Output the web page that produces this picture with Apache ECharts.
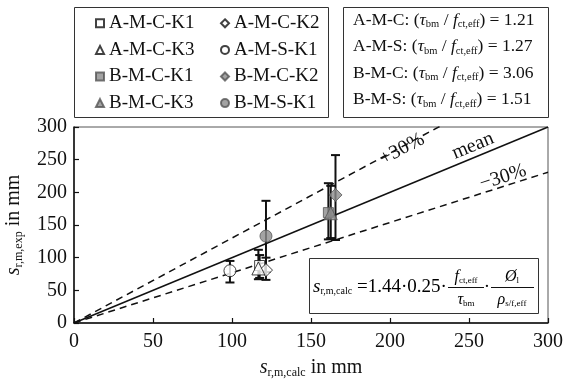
<!DOCTYPE html>
<html><head><meta charset="utf-8">
<script src="https://cdn.jsdelivr.net/npm/echarts@6/dist/echarts.min.js"></script>
<style>html,body{margin:0;padding:0;background:#fff}#c{width:565px;height:381px}</style>
</head><body><div id="c"></div>
<script>
// ---- data ----
const seriesNames = ['A-M-C-K1','A-M-C-K2','A-M-C-K3','A-M-S-K1','B-M-C-K1','B-M-C-K2','B-M-C-K3','B-M-S-K1'];
const symbols     = ['rect','diamond','triangle','circle','rect','diamond','triangle','circle'];
const filled      = [false,false,false,false,true,true,true,true];
const xCalc = [117.5, 121.5, 116.7, 98.7, 161, 165.5, 162.5, 121.5];
const yExp  = [88, 81, 83.5, 80, 169, 196, 168, 133];
const yLow  = [69, 66, 67, 62, 128, 127, 130, 78];
const yHigh = [104, 100, 112, 95, 214, 257, 210, 187];
const lineFactors = [1.3, 1, 1/1.3];
const lineLabels = ['+30%', 'mean', '\u221230%'];
const ratioGroups = ['A-M-C', 'A-M-S', 'B-M-C', 'B-M-S'];
const ratioValues = ['1.21', '1.27', '3.06', '1.51'];
const ticks = [0, 50, 100, 150, 200, 250, 300];

const SERIF = '"Liberation Serif","DejaVu Serif",serif';
const chart = echarts.init(document.getElementById('c'));

const richBase = {
  n: {fontFamily: SERIF, fontSize: 20, color: '#111', lineHeight: 24},
  it: {fontFamily: SERIF, fontSize: 20, fontStyle: 'italic', color: '#111', lineHeight: 24},
  sub: {fontFamily: SERIF, fontSize: 12, color: '#111', lineHeight: 12, verticalAlign: 'bottom', padding: [0,0,1,0]}
};
const richSmall = {
  n: {fontFamily: SERIF, fontSize: 17.5, color: '#111', lineHeight: 22},
  it: {fontFamily: SERIF, fontSize: 17.5, fontStyle: 'italic', color: '#111', lineHeight: 22},
  sub: {fontFamily: SERIF, fontSize: 10.5, color: '#111', lineHeight: 10, verticalAlign: 'bottom', padding: [0,0,1,0]}
};

const series = [];
lineFactors.forEach((f, i) => {
  series.push({
    type: 'line', name: 'ref' + i, data: [[0, 0], [300, 300 * f]],
    symbol: 'none', clip: true, silent: true, z: 1,
    lineStyle: {color: '#111', width: 1.5, type: i === 1 ? 'solid' : [7, 5]}
  });
});
series.push({
  type: 'custom', name: 'err', z: 2, silent: true,
  data: xCalc.map((x, i) => [x, yLow[i], yHigh[i]]),
  renderItem: (params, api) => {
    const lo = api.coord([api.value(0), api.value(1)]);
    const hi = api.coord([api.value(0), api.value(2)]);
    const w = 4.5;
    const st = {stroke: '#111', lineWidth: 2};
    return {type: 'group', children: [
      {type: 'line', shape: {x1: lo[0], y1: lo[1], x2: hi[0], y2: hi[1]}, style: st},
      {type: 'line', shape: {x1: lo[0]-w, y1: lo[1], x2: lo[0]+w, y2: lo[1]}, style: st},
      {type: 'line', shape: {x1: hi[0]-w, y1: hi[1], x2: hi[0]+w, y2: hi[1]}, style: st}
    ]};
  }
});
seriesNames.forEach((n, i) => {
  series.push({
    type: 'scatter', name: n, data: [[xCalc[i], yExp[i]]],
    symbol: symbols[i],
    symbolSize: symbols[i] === 'rect' ? 10 : (symbols[i] === 'circle' ? 12 : 13),
    z: 3,
    itemStyle: {color: filled[i] ? '#8c8c8c' : '#fff', borderColor: filled[i] ? '#555' : '#111', borderWidth: 1}
  });
});

const legendCommon = {
  orient: 'vertical', itemWidth: 8, itemHeight: 8, itemGap: 0,
  textStyle: {fontFamily: SERIF, fontSize: 19, color: '#111', lineHeight: 26.6, padding: [0,0,0,0]},
  selectedMode: false
};

const ratioTexts = ratioGroups.map((g, i) =>
  '{n|' + g + ': (}{it|\u03c4}{sub|bm}{n| / }{it|f}{sub|ct,eff}{n|) = ' + ratioValues[i] + '}');

const option = {
  animation: false,
  grid: {left: 74, right: 17, top: 127, bottom: 58, show: true, borderColor: '#555', borderWidth: 1,
    containLabel: false, outerBoundsMode: 'none'},
  xAxis: {
    type: 'value', min: 0, max: 300, interval: 50,
    axisLine: {lineStyle: {color: '#111', width: 1.5}},
    axisTick: {inside: true, length: 5, lineStyle: {color: '#111', width: 1.2}},
    splitLine: {show: false},
    axisLabel: {fontFamily: SERIF, fontSize: 20, color: '#111', margin: 9,
      formatter: v => ticks.includes(v) ? String(v) : ''},
    name: '{it|s}{sub|r,m,calc}{n| in mm}', nameLocation: 'middle', nameGap: 33,
    nameTextStyle: {rich: richBase}
  },
  yAxis: {
    type: 'value', min: 0, max: 300, interval: 50,
    axisLine: {lineStyle: {color: '#111', width: 1.5}},
    axisTick: {inside: true, length: 5, lineStyle: {color: '#111', width: 1.2}},
    splitLine: {show: false},
    axisLabel: {fontFamily: SERIF, fontSize: 20, color: '#111', margin: 7},
    name: '{it|s}{sub|r,m,exp}{n| in mm}', nameLocation: 'middle', nameGap: 48,
    nameTextStyle: {rich: richBase}
  },
  legend: [
    Object.assign({}, legendCommon, {left: 90, top: 5, data: [seriesNames[0], seriesNames[2], seriesNames[4], seriesNames[6]]}),
    Object.assign({}, legendCommon, {left: 215, top: 5, data: [seriesNames[1], seriesNames[3], seriesNames[5], seriesNames[7]]})
  ],
  series: series
};
chart.setOption(option);

const P = (x, y) => chart.convertToPixel({gridIndex: 0}, [x, y]);
const g = [];
g.push({type: 'rect', shape: {x: 74.5, y: 7.5, width: 254, height: 110}, style: {fill: 'none', stroke: '#333', lineWidth: 1}, z: 0});
g.push({type: 'rect', shape: {x: 343.5, y: 7.5, width: 205, height: 110}, style: {fill: 'none', stroke: '#333', lineWidth: 1}, z: 0});
ratioTexts.forEach((t, i) => {
  g.push({type: 'text', left: 353, top: 11 + i * 26.5, style: {text: t, rich: richSmall, fill: '#111'}});
});
const ang = f => Math.atan((196 / 300 * f) / (474 / 300));
const labPos = [[207.6, 266], [252.5, 271], [271.5, 223]];
lineLabels.forEach((t, i) => {
  const p = P(labPos[i][0], labPos[i][1]);
  g.push({type: 'text', x: p[0], y: p[1], rotation: ang(lineFactors[i]),
    style: {text: t, fontFamily: SERIF, fontSize: 20, fill: '#111', align: 'center', verticalAlign: 'middle'}});
});
g.push({type: 'rect', shape: {x: 309.5, y: 258.5, width: 229, height: 55}, style: {fill: '#fff', stroke: '#333', lineWidth: 1}, z: 5});
const fr = {
  n: {fontFamily: SERIF, fontSize: 19, color: '#111', lineHeight: 22},
  it: {fontFamily: SERIF, fontSize: 19, fontStyle: 'italic', color: '#111', lineHeight: 22},
  sub: {fontFamily: SERIF, fontSize: 10, color: '#111', lineHeight: 10, verticalAlign: 'bottom', padding: [0,0,2,0]}
};
const frs = {
  n: {fontFamily: SERIF, fontSize: 16, color: '#111', lineHeight: 18},
  it: {fontFamily: SERIF, fontSize: 16, fontStyle: 'italic', color: '#111', lineHeight: 18},
  sub: {fontFamily: SERIF, fontSize: 9, color: '#111', lineHeight: 9, verticalAlign: 'bottom', padding: [0,0,1,0]}
};
g.push({type: 'text', z: 6, x: 313, y: 287, style: {text: '{it|s}{sub|r,m,calc}{n| =1.44\u00b70.25\u00b7}', rich: fr, verticalAlign: 'middle'}});
g.push({type: 'text', z: 6, x: 466, y: 277, style: {text: '{it|f}{sub|ct,eff}', rich: frs, align: 'center', verticalAlign: 'middle'}});
g.push({type: 'line', z: 6, shape: {x1: 448, y1: 287.5, x2: 484, y2: 287.5}, style: {stroke: '#111', lineWidth: 1}});
g.push({type: 'text', z: 6, x: 466, y: 300, style: {text: '{it|\u03c4}{sub|bm}', rich: frs, align: 'center', verticalAlign: 'middle'}});
g.push({type: 'text', z: 6, x: 487, y: 287, style: {text: '\u00b7', fontFamily: SERIF, fontSize: 19, fill: '#111', align: 'center', verticalAlign: 'middle'}});
g.push({type: 'line', z: 6, shape: {x1: 491, y1: 287.5, x2: 534, y2: 287.5}, style: {stroke: '#111', lineWidth: 1}});
g.push({type: 'text', z: 6, x: 512, y: 277, style: {text: '{it|\u00d8}{sub|l}', rich: frs, align: 'center', verticalAlign: 'middle'}});
g.push({type: 'text', z: 6, x: 512, y: 300, style: {text: '{it|\u03c1}{sub|s/f,eff}', rich: frs, align: 'center', verticalAlign: 'middle'}});
chart.setOption({graphic: g});
</script></body></html>
